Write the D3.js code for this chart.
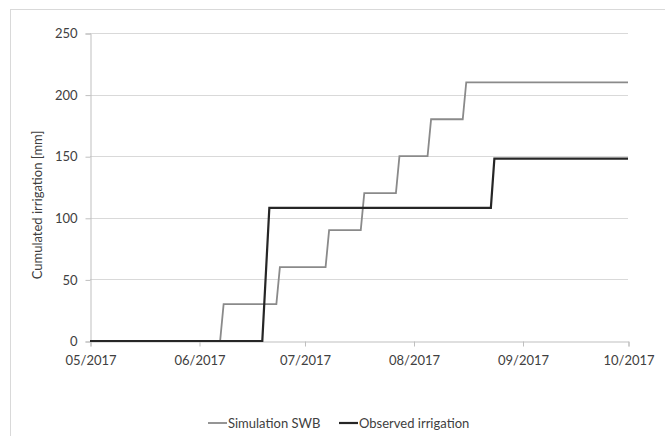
<!DOCTYPE html>
<html>
<head>
<meta charset="utf-8">
<script src="https://cdn.jsdelivr.net/npm/d3@7"></script>
<style>
  html, body { margin: 0; padding: 0; background: #fff; }
  svg { display: block; font-family: Lato, "Open Sans", sans-serif; }
</style>
</head>
<body>
<svg id="chart" width="665" height="436"></svg>
<script>
// ---- data ----
const xTickLabels = ["05/2017", "06/2017", "07/2017", "08/2017", "09/2017", "10/2017"];
const xTickDates = ["2017-05-01", "2017-06-01", "2017-07-01", "2017-08-01", "2017-09-01", "2017-10-01"];
const yTicks = [0, 50, 100, 150, 200, 250];

const simDates = ["2017-05-01", "2017-06-07", "2017-06-08", "2017-06-23", "2017-06-24",
                  "2017-07-07", "2017-07-08", "2017-07-17", "2017-07-18", "2017-07-27",
                  "2017-07-28", "2017-08-05", "2017-08-06", "2017-08-15", "2017-08-16", "2017-10-01"];
const simValues = [0, 0, 30, 30, 60, 60, 90, 90, 120, 120, 150, 150, 180, 180, 210, 210];

const obsDates = ["2017-05-01", "2017-06-19", "2017-06-21", "2017-08-23", "2017-08-24", "2017-10-01"];
const obsValues = [0, 0, 108, 108, 148, 148];

const seriesNames = ["Simulation SWB", "Observed irrigation"];
const yLabel = "Cumulated irrigation [mm]";

// ---- drawing ----
(function () {
const parse = d3.utcParse("%Y-%m-%d");
const svg = d3.select("#chart");

// outer chart border
svg.append("rect")
  .attr("x", 10.5).attr("y", 9.5)
  .attr("width", 700).attr("height", 500)
  .attr("fill", "none").attr("stroke", "#d9d9d9").attr("stroke-width", 1);

const pLeft = 90, pRight = 628, pTop = 33, pBottom = 341;

const x = d3.scaleUtc()
  .domain([parse(xTickDates[0]), parse(xTickDates[xTickDates.length - 1])])
  .range([pLeft, pRight]);
const y = d3.scaleLinear().domain([0, 250]).range([pBottom, pTop]);

// gridlines
svg.append("g")
  .selectAll("line")
  .data(yTicks.filter(d => d > 0))
  .join("line")
  .attr("x1", pLeft).attr("x2", pRight)
  .attr("y1", d => Math.round(y(d)) + 0.5).attr("y2", d => Math.round(y(d)) + 0.5)
  .attr("stroke", "#d9d9d9").attr("stroke-width", 1.2);

// y axis
const yAxis = d3.axisLeft(y).tickValues(yTicks).tickSize(5).tickPadding(8).tickFormat(d3.format("d"));
const gy = svg.append("g").attr("transform", `translate(${pLeft + 0.5},0.5)`).call(yAxis);
gy.select(".domain").attr("stroke", "#bfbfbf");
gy.selectAll(".tick line").attr("stroke", "#bfbfbf");
gy.selectAll(".tick text").attr("fill", "#404040").attr("font-size", 13)
  .attr("font-family", "Lato, 'Open Sans', sans-serif");

// x axis
const xAxis = d3.axisBottom(x)
  .tickValues(xTickDates.map(parse))
  .tickSize(5).tickPadding(9)
  .tickFormat((d, i) => xTickLabels[i]);
const gx = svg.append("g").attr("transform", `translate(0.5,${pBottom + 0.5})`).call(xAxis);
gx.select(".domain").attr("stroke", "#bfbfbf");
gx.selectAll(".tick line").attr("stroke", "#bfbfbf");
gx.selectAll(".tick text").attr("fill", "#404040").attr("font-size", 13)
  .attr("font-family", "Lato, 'Open Sans', sans-serif");

// y label
svg.append("text")
  .attr("transform", `translate(42,205) rotate(-90)`)
  .attr("text-anchor", "middle")
  .attr("font-size", 13)
  .attr("fill", "#404040")
  .text(yLabel);

// lines
const line = d3.line().x(d => x(d[0])).y(d => y(d[1]));
const simData = simDates.map((d, i) => [parse(d), simValues[i]]);
const obsData = obsDates.map((d, i) => [parse(d), obsValues[i]]);

svg.append("path").datum(simData).attr("d", line)
  .attr("fill", "none").attr("stroke", "#8a8a8a").attr("stroke-width", 1.8);
svg.append("path").datum(obsData).attr("d", line)
  .attr("fill", "none").attr("stroke", "#262626").attr("stroke-width", 2.2);

// legend
const legendItems = [
  { name: seriesNames[0], color: "#8a8a8a", w: 1.8, x: 208 },
  { name: seriesNames[1], color: "#262626", w: 2.2, x: 339 }
];
const lg = svg.append("g");
legendItems.forEach(it => {
  lg.append("line").attr("x1", it.x).attr("x2", it.x + 19)
    .attr("y1", 423).attr("y2", 423)
    .attr("stroke", it.color).attr("stroke-width", it.w);
  lg.append("text").attr("x", it.x + 20).attr("y", 423).attr("dy", "0.35em")
    .attr("font-size", 13).attr("fill", "#404040").text(it.name);
});
})();
</script>
</body>
</html>
